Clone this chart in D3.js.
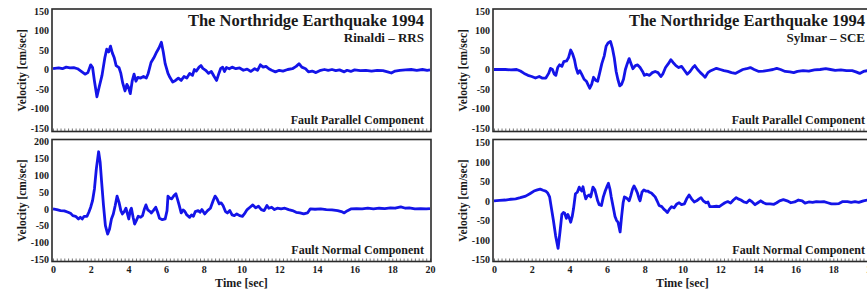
<!DOCTYPE html>
<html>
<head>
<meta charset="utf-8">
<script src="https://cdn.jsdelivr.net/npm/d3@7"></script>
<style>
  body { margin: 0; background: #fff; }
  svg text { font-family: "Liberation Serif", "Times New Roman", serif; font-weight: bold; fill: #1a1a1a; }
</style>
</head>
<body>
<svg id="chart" width="867" height="293"></svg>
<script>
// velocity records [time sec, velocity cm/sec]
const rinaldiParallel = [[0,2],[0.3,4],[0.5,2],[0.7,6],[0.9,4],[1.1,5],[1.3,2],[1.5,-5],[1.7,-12],[1.85,-8],[2.0,12],[2.1,5],[2.2,-30],[2.33,-70],[2.45,-45],[2.6,-15],[2.75,30],[2.85,52],[2.95,45],[3.05,60],[3.15,42],[3.25,30],[3.35,10],[3.5,5],[3.6,-10],[3.7,-35],[3.82,-55],[3.92,-38],[4.0,-45],[4.1,-62],[4.2,-30],[4.3,-12],[4.4,-30],[4.5,-20],[4.65,-22],[4.8,-18],[4.95,-22],[5.05,-10],[5.2,18],[5.35,30],[5.5,45],[5.62,55],[5.75,70],[5.85,45],[5.95,15],[6.1,-10],[6.2,-20],[6.35,-32],[6.5,-28],[6.65,-22],[6.8,-28],[6.95,-18],[7.1,-22],[7.25,-10],[7.4,-15],[7.5,0],[7.6,-4],[7.75,6],[7.85,10],[7.95,3],[8.1,-2],[8.25,-10],[8.4,-5],[8.55,-18],[8.68,-28],[8.8,-10],[8.9,3],[9.0,6],[9.1,-5],[9.2,5],[9.35,2],[9.5,6],[9.7,2],[9.9,4],[10.1,-2],[10.3,1],[10.5,-5],[10.7,2],[10.85,-2],[11.0,12],[11.15,6],[11.3,8],[11.45,2],[11.6,-2],[11.8,-6],[12.0,-2],[12.2,-4],[12.45,0],[12.7,2],[12.9,8],[13.05,15],[13.2,6],[13.4,2],[13.55,-6],[13.75,-4],[13.95,-8],[14.2,-2],[14.4,0],[14.6,-2],[14.8,0],[15.0,-3],[15.2,-1],[15.45,-6],[15.6,-2],[15.8,-5],[16.0,-1],[16.3,-3],[16.6,-2],[16.9,-4],[17.2,-2],[17.5,-3],[17.75,-6],[17.95,-9],[18.15,-4],[18.4,-2],[18.7,-1],[19.0,0],[19.3,-2],[19.6,0],[19.85,-2],[20,-1]];

const rinaldiNormal = [[0,0],[0.2,-2],[0.4,-5],[0.6,-6],[0.8,-10],[0.95,-14],[1.05,-20],[1.2,-22],[1.35,-30],[1.45,-25],[1.55,-30],[1.65,-22],[1.8,-22],[1.9,-10],[2.0,5],[2.1,25],[2.2,60],[2.3,120],[2.42,170],[2.5,140],[2.58,80],[2.68,10],[2.78,-50],[2.9,-75],[3.0,-60],[3.1,-30],[3.2,-15],[3.3,10],[3.4,38],[3.5,20],[3.6,-5],[3.68,-15],[3.78,-8],[3.87,2],[3.95,-15],[4.02,-30],[4.1,-5],[4.16,2],[4.25,-25],[4.33,-45],[4.42,-35],[4.52,-22],[4.65,-25],[4.75,-20],[4.85,0],[4.93,12],[5.03,-3],[5.15,-8],[5.22,-12],[5.32,-5],[5.45,5],[5.55,-10],[5.65,-28],[5.8,-32],[5.95,-30],[6.05,-5],[6.1,38],[6.2,32],[6.3,30],[6.42,40],[6.52,45],[6.6,30],[6.7,10],[6.8,-12],[6.9,-3],[7.0,-8],[7.1,-18],[7.25,-25],[7.35,-18],[7.45,-22],[7.55,-8],[7.7,-5],[7.8,-10],[7.9,-2],[8.05,-15],[8.2,-5],[8.35,2],[8.5,25],[8.6,38],[8.7,30],[8.82,15],[8.92,18],[9.02,10],[9.15,-8],[9.25,-12],[9.38,-5],[9.5,-18],[9.62,-20],[9.75,-15],[9.9,-20],[10.05,-22],[10.15,-15],[10.3,-2],[10.45,5],[10.6,12],[10.75,3],[10.9,8],[11.05,-2],[11.2,-5],[11.35,10],[11.45,2],[11.6,5],[11.75,-2],[11.9,2],[12.1,0],[12.3,2],[12.5,-2],[12.7,-5],[12.9,-10],[13.1,-12],[13.3,-15],[13.5,-12],[13.65,0],[13.9,-1],[14.2,0],[14.5,-2],[14.8,-3],[15.1,-5],[15.3,-8],[15.45,-12],[15.6,-6],[15.8,0],[16.1,1],[16.4,0],[16.7,2],[17.0,0],[17.3,2],[17.6,1],[17.9,3],[18.15,2],[18.45,6],[18.7,2],[18.9,3],[19.2,0],[19.5,1],[19.8,0],[20,1]];

const sylmarParallel = [[0,0],[0.3,0],[0.6,0],[0.9,-1],[1.2,0],[1.4,-4],[1.6,-10],[1.8,-15],[2.0,-18],[2.2,-22],[2.4,-18],[2.55,-22],[2.75,-22],[2.9,-10],[3.0,3],[3.1,0],[3.2,-12],[3.28,-15],[3.38,5],[3.48,12],[3.6,8],[3.7,20],[3.85,22],[3.95,30],[4.07,50],[4.17,40],[4.27,25],[4.35,5],[4.45,-10],[4.55,-3],[4.65,-12],[4.78,-25],[4.9,-30],[5.0,-40],[5.08,-48],[5.18,-38],[5.28,-20],[5.4,-28],[5.5,-30],[5.6,-10],[5.72,15],[5.85,35],[5.95,60],[6.05,68],[6.18,72],[6.28,55],[6.38,30],[6.48,-5],[6.57,-25],[6.67,-42],[6.77,-38],[6.87,-25],[6.97,0],[7.07,15],[7.17,28],[7.27,15],[7.37,2],[7.5,10],[7.62,12],[7.75,5],[7.88,-5],[7.98,-15],[8.1,-12],[8.25,-15],[8.4,-8],[8.55,-5],[8.7,-8],[8.85,-18],[8.95,-12],[9.1,5],[9.25,15],[9.38,25],[9.5,18],[9.65,10],[9.8,5],[9.95,8],[10.1,-2],[10.25,-12],[10.4,-5],[10.55,5],[10.65,10],[10.8,0],[10.95,-8],[11.1,-15],[11.2,-20],[11.35,-8],[11.5,-3],[11.65,0],[11.8,3],[12.0,0],[12.2,-3],[12.4,-5],[12.6,-8],[12.8,-10],[13.0,-5],[13.2,0],[13.4,2],[13.6,5],[13.8,0],[14.05,-5],[14.3,-4],[14.55,-2],[14.8,0],[15.0,3],[15.2,0],[15.45,-5],[15.7,-6],[15.9,-8],[16.1,-5],[16.4,-3],[16.7,-4],[17.0,-1],[17.3,0],[17.6,2],[17.85,0],[18.1,-2],[18.4,-1],[18.7,-3],[19.0,-3],[19.2,-6],[19.4,-10],[19.6,-5],[19.8,-3],[20,-2]];

const sylmarNormal = [[0,0],[0.3,1],[0.6,2],[0.9,4],[1.15,5],[1.4,8],[1.68,12],[1.9,18],[2.12,25],[2.3,28],[2.45,30],[2.6,27],[2.74,25],[2.85,20],[2.95,10],[3.05,-20],[3.15,-50],[3.27,-90],[3.4,-122],[3.5,-80],[3.6,-35],[3.68,-30],[3.75,-32],[3.84,-45],[3.92,-35],[4.0,-45],[4.07,-55],[4.15,-40],[4.22,-20],[4.32,18],[4.42,22],[4.52,35],[4.6,28],[4.66,25],[4.72,36],[4.8,18],[4.87,5],[4.95,12],[5.05,15],[5.13,10],[5.25,35],[5.35,28],[5.42,15],[5.5,0],[5.58,-10],[5.7,-12],[5.8,10],[5.9,25],[5.98,35],[6.07,45],[6.15,30],[6.22,10],[6.32,-15],[6.42,-40],[6.5,-50],[6.58,-55],[6.69,-80],[6.77,-40],[6.85,-5],[6.92,10],[7.0,8],[7.08,5],[7.17,0],[7.25,12],[7.35,30],[7.43,38],[7.52,30],[7.61,20],[7.7,5],[7.75,0],[7.85,22],[7.95,28],[8.05,25],[8.15,25],[8.25,22],[8.35,20],[8.45,15],[8.55,10],[8.65,0],[8.76,-12],[8.9,-15],[9.02,-22],[9.12,-26],[9.2,-30],[9.3,-22],[9.42,-15],[9.55,-18],[9.7,-8],[9.82,-5],[9.95,-10],[10.1,-8],[10.22,5],[10.35,15],[10.48,5],[10.62,-3],[10.75,0],[10.88,5],[10.98,8],[11.1,0],[11.25,-5],[11.35,-3],[11.45,-15],[11.6,-15],[11.8,-14],[11.95,-15],[12.1,-10],[12.25,-5],[12.4,-2],[12.55,-6],[12.7,2],[12.85,8],[12.95,5],[13.1,2],[13.25,-3],[13.4,-5],[13.55,2],[13.7,-3],[13.85,-10],[14.0,-5],[14.15,0],[14.3,-5],[14.45,-8],[14.65,-8],[14.85,-9],[15.0,-5],[15.15,0],[15.35,3],[15.55,0],[15.75,-5],[15.95,-3],[16.15,2],[16.35,0],[16.5,-6],[16.7,-3],[16.9,-4],[17.1,-2],[17.3,-3],[17.5,-2],[17.7,-5],[17.9,-8],[18.1,-8],[18.3,-7],[18.5,-2],[18.75,-2],[18.95,-4],[19.15,-2],[19.35,-4],[19.6,0],[19.8,2],[20,0]];

const timeTicks = [0, 2, 4, 6, 8, 10, 12, 14, 16, 18, 20];
const ticks150 = [150, 100, 50, 0, -50, -100, -150];
const ticks200 = [200, 150, 100, 50, 0, -50, -100, -150];
const title = "The Northridge Earthquake 1994";
const stations = ["Rinaldi \u2013 RRS", "Sylmar \u2013 SCE"];
const components = ["Fault Parallel Component", "Fault Normal Component"];

const svg = d3.select("#chart");

function drawPanel(p) {
  const x = d3.scaleLinear().domain([0, 20]).range(p.xr);
  const y = d3.scaleLinear().domain(p.yd).range(p.yr);
  const g = svg.append("g");

  // minor ticks along the bottom edge
  g.append("g")
    .attr("transform", `translate(0,${p.fb})`)
    .call(d3.axisBottom(x).tickValues(d3.range(0, 20.001, 0.2)).tickSize(-3).tickFormat(""))
    .call(s => s.select(".domain").remove())
    .call(s => s.selectAll("line").attr("stroke", "#777").attr("stroke-width", 1));

  g.append("rect")
    .attr("x", p.xr[0] - 1).attr("y", p.ft)
    .attr("width", p.xr[1] - p.xr[0] + 2).attr("height", p.fb - p.ft)
    .attr("fill", "none").attr("stroke", "#2a2a2a").attr("stroke-width", 1.6);

  g.append("g")
    .attr("transform", `translate(${p.xr[0] - 1},0)`)
    .call(d3.axisLeft(y).tickValues(p.ticks).tickSize(0).tickPadding(3).tickFormat(d => String(d)))
    .call(s => s.select(".domain").remove())
    .call(s => s.selectAll("text").style("font-size", "10px").attr("fill", "#1a1a1a"));

  const line = d3.line().x(d => x(d[0])).y(d => y(d[1]));
  g.append("path").datum(p.data)
    .attr("d", line)
    .attr("fill", "none").attr("stroke", "#1414e8")
    .attr("stroke-width", 2.8).attr("stroke-linejoin", "round");

  g.append("text")
    .attr("transform", `translate(${p.vx},${(p.ft + p.fb) / 2}) rotate(-90)`)
    .attr("text-anchor", "middle").style("font-size", "11.5px")
    .text("Velocity [cm/sec]");

  const rx = p.xr[1] - 6;
  if (p.station) {
    g.append("text").attr("x", rx).attr("y", p.ft + 17)
      .attr("text-anchor", "end").style("font-size", "16.5px").text(title);
    g.append("text").attr("x", rx).attr("y", p.ft + 33)
      .attr("text-anchor", "end").style("font-size", "13px").text(p.station);
  }
  g.append("text").attr("x", rx).attr("y", p.fb - 7.5)
    .attr("text-anchor", "end").style("font-size", "12px").text(p.comp);

  if (p.xaxis) {
    g.append("g")
      .attr("transform", `translate(0,${p.fb})`)
      .call(d3.axisBottom(x).tickValues(timeTicks).tickSize(0).tickPadding(4))
      .call(s => s.select(".domain").remove())
      .call(s => s.selectAll("text").style("font-size", "10px").attr("fill", "#1a1a1a"));
    g.append("text").attr("x", (p.xr[0] + p.xr[1]) / 2).attr("y", 287)
      .attr("text-anchor", "middle").style("font-size", "12px").text("Time [sec]");
  }
}

const leftX = [53, 430], rightX = [494, 871];
drawPanel({ data: rinaldiParallel, xr: leftX, yd: [-150, 150], yr: [128, 11], ft: 9, fb: 131.5, ticks: ticks150, vx: 25.5, station: stations[0], comp: components[0] });
drawPanel({ data: rinaldiNormal, xr: leftX, yd: [-150, 200], yr: [259.3, 141.7], ft: 139.5, fb: 261.5, ticks: ticks200, vx: 25.5, comp: components[1], xaxis: true });
drawPanel({ data: sylmarParallel, xr: rightX, yd: [-150, 150], yr: [128, 11], ft: 9, fb: 131.5, ticks: ticks150, vx: 466.5, station: stations[1], comp: components[0] });
drawPanel({ data: sylmarNormal, xr: rightX, yd: [-150, 150], yr: [259.3, 142.3], ft: 139.5, fb: 261.5, ticks: ticks150, vx: 466.5, comp: components[1], xaxis: true });
</script>
</body>
</html>
